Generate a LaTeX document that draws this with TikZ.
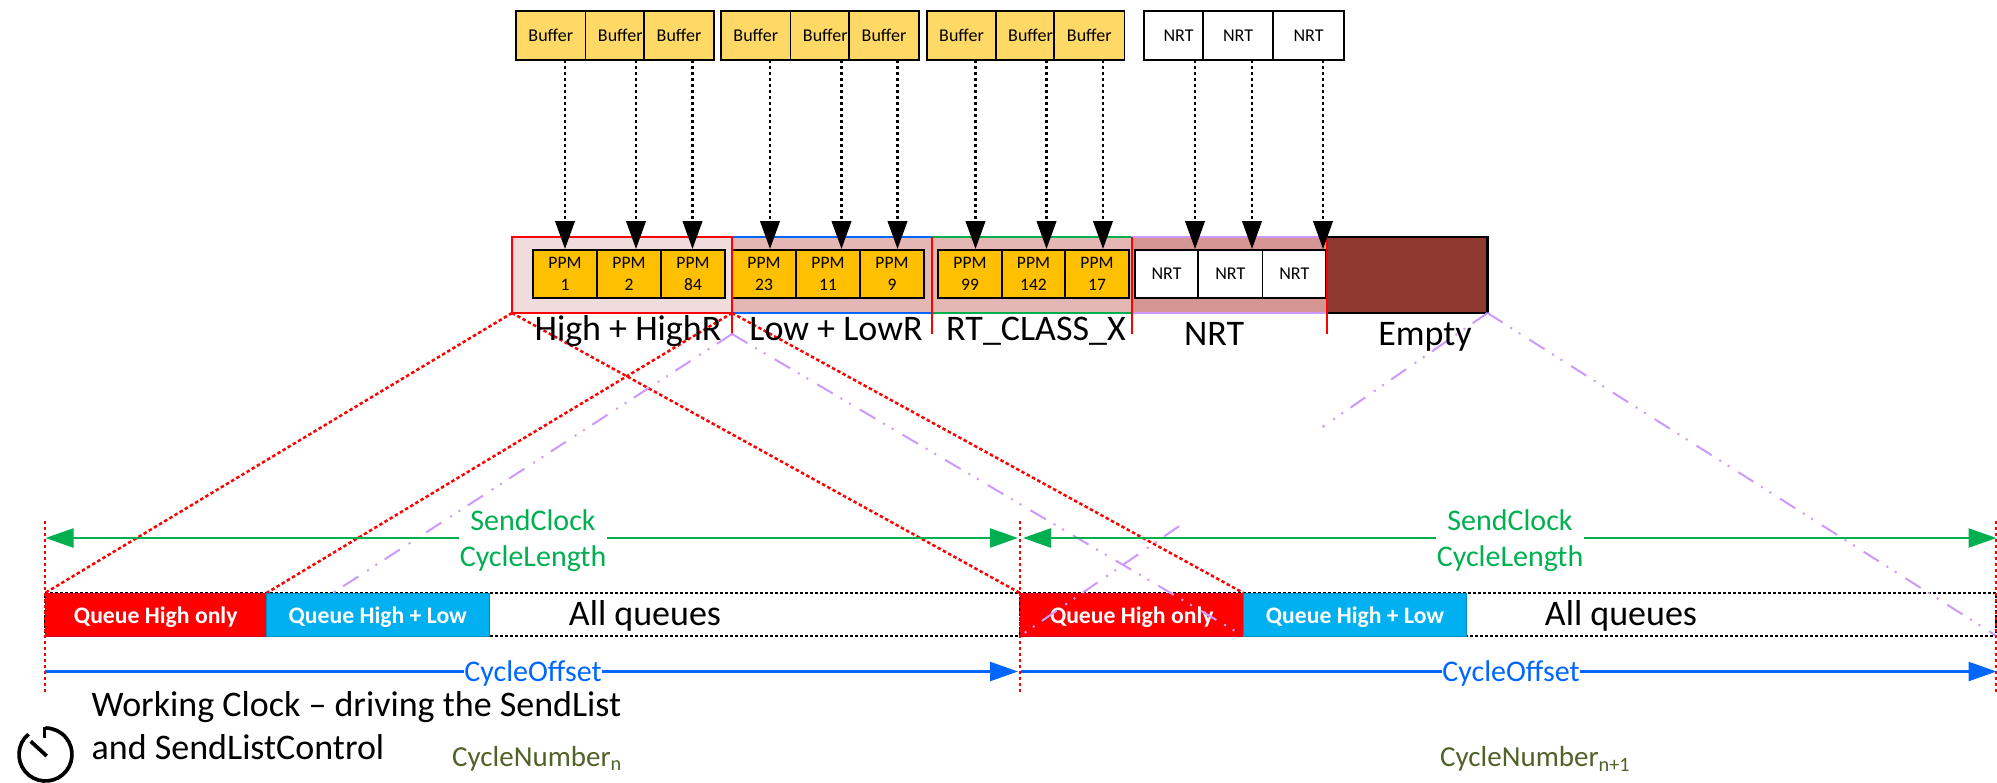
\documentclass[tikz,border=0pt]{standalone}
\usepackage{fontspec}
\setmainfont{Carlito}
\usetikzlibrary{arrows.meta,calc}
\definecolor{bufY}{HTML}{FFD966}
\definecolor{ppmY}{HTML}{FFC000}
\definecolor{gr}{HTML}{00B050}
\definecolor{bl}{HTML}{0066FF}
\definecolor{numG}{HTML}{4F6228}
\definecolor{pur}{HTML}{CC99FF}
\definecolor{hiF}{HTML}{F0DCDC}
\definecolor{loF}{HTML}{E4B7B4}
\definecolor{nrF}{HTML}{D59592}
\definecolor{emF}{HTML}{8F3830}
\definecolor{cy}{HTML}{00B0F0}
\tikzset{
 cell/.style={draw=black,line width=1.8pt,inner sep=0pt,outer sep=0pt,align=center},
 bufbox/.style={cell,fill=bufY,font=\fontsize{18}{21}\selectfont},
 nrtbox/.style={cell,fill=white,font=\fontsize{18}{21}\selectfont},
 ppmbox/.style={cell,fill=ppmY,font=\fontsize{17.5}{22}\selectfont},
 region/.style={line width=2pt,inner sep=0pt,outer sep=0pt},
 rowbox/.style={draw=black,line width=2.4pt,dash pattern=on 3pt off 2pt,inner sep=0pt,outer sep=0pt},
 qbox/.style={inner sep=0pt,outer sep=0pt,text=white,text height=17.6pt,text depth=0pt,font=\fontsize{23.7}{26}\bfseries\selectfont},
 sect/.style={font=\fontsize{36}{40}\selectfont,inner sep=0pt,anchor=base},
 grlab/.style={text=gr,font=\fontsize{30}{34}\selectfont,inner sep=0pt,anchor=base},
 bllab/.style={text=bl,font=\fontsize{30}{34}\selectfont,inner sep=0pt,anchor=base},
 numlab/.style={text=numG,font=\fontsize{29}{34}\selectfont,inner sep=0pt,anchor=base west},
 feed/.style={line width=2.4pt,dash pattern=on 3.2pt off 2.8pt,-{Triangle[length=28pt,width=19.5pt,sep=0pt]},black},
 redsep/.style={red,line width=2.2pt},
 reddot/.style={red,line width=2.5pt,dash pattern=on 3.5pt off 2.5pt},
 purdash/.style={pur,line width=2pt,dash pattern=on 18pt off 9pt on 2pt off 8pt on 2pt off 10.5pt},
 grline/.style={gr,line width=2.5pt},
 blline/.style={bl,line width=2.5pt},
}
\newcommand{\bx}[7]{\node[#1,minimum width={(#4)-(#3)},minimum height={(#6)-(#5)}] (#2) at ({((#3)+(#4))/2},{((#5)+(#6))/2}) {#7};}
\begin{document}
\begin{tikzpicture}[x=1pt,y=-1pt]
\useasboundingbox (0,0) rectangle (1997,782);
\clip (0,0) rectangle (1997,782);

% sections
\bx{region,fill=loF,draw=bl}{low}{732}{932}{237}{313}{}
\bx{region,fill=loF,draw=gr}{rt}{932}{1132}{237}{313}{}
\bx{region,fill=nrF,draw=pur}{nrtr}{1132}{1327}{237}{313}{}
\bx{region,fill=emF,draw=black,line width=2.2pt}{empty}{1327}{1487.5}{237}{313}{}
\bx{region,fill=hiF,draw=red}{high}{512}{732}{237}{313}{}

% PPM cells
\bx{ppmbox}{p1}{533}{597}{250}{298}{PPM\\1}
\bx{ppmbox}{p2}{597}{661}{250}{298}{PPM\\2}
\bx{ppmbox}{p3}{661}{725}{250}{298}{PPM\\84}
\bx{ppmbox}{p4}{732}{796}{250}{298}{PPM\\23}
\bx{ppmbox}{p5}{796}{860}{250}{298}{PPM\\11}
\bx{ppmbox}{p6}{860}{924}{250}{298}{PPM\\9}
\bx{ppmbox}{p7}{938}{1002}{250}{298}{PPM\\99}
\bx{ppmbox}{p8}{1002}{1065}{250}{298}{PPM\\142}
\bx{ppmbox}{p9}{1065}{1129}{250}{298}{PPM\\17}
\bx{nrtbox}{n1}{1135}{1198}{250}{298}{NRT}
\bx{nrtbox}{n2}{1198}{1262.5}{250}{298}{NRT}
\bx{nrtbox}{n3}{1262.5}{1326}{250}{298}{NRT}

% separators
\coordinate (apexA) at (732,334);
\coordinate (apexB) at (932,334);
\coordinate (apexC) at (1132,334);
\coordinate (apexD) at (1327,334);
\draw[redsep] (low.north west) -- (apexA);
\draw[redsep] (rt.north west) -- (apexB);
\draw[redsep] (nrtr.north west) -- (apexC);
\draw[redsep] (empty.north west) -- (apexD);

% buffers
\bx{bufbox}{b1}{516}{585.5}{11}{60}{Buffer}
\bx{bufbox}{b2}{585.5}{655}{11}{60}{Buffer}
\bx{bufbox}{b3}{644}{714}{11}{60}{Buffer}
\bx{bufbox}{b4}{721}{790.5}{11}{60}{Buffer}
\bx{bufbox}{b5}{790.5}{860}{11}{60}{Buffer}
\bx{bufbox}{b6}{849}{919}{11}{60}{Buffer}
\bx{bufbox}{b7}{927}{996}{11}{60}{Buffer}
\bx{bufbox}{b8}{996}{1065}{11}{60}{Buffer}
\bx{bufbox}{b9}{1054}{1124.5}{11}{60}{Buffer}
\bx{nrtbox}{m1}{1144}{1213}{11}{60}{NRT}
\bx{nrtbox}{m2}{1203}{1273}{11}{60}{NRT}
\bx{nrtbox}{m3}{1273}{1344}{11}{60}{NRT}

% feeds
\foreach \b/\p/\x in {b1/p1/565,b2/p2/636,b3/p3/692.5,b4/p4/770,b5/p5/841.5,b6/p6/897.5,b7/p7/975.5,b8/p8/1046.5,b9/p9/1103,m1/n1/1195,m2/n2/1252,m3/n3/1323}{
  \coordinate (fx) at (\x,0);
  \draw[feed] (\b.south -| fx) -- ($(\p.north -| fx)+(0,-1)$);
}

% cycle rows
\bx{rowbox}{rowa}{45}{1020}{593}{636}{}
\bx{rowbox}{rowb}{1020}{1996.5}{593}{636}{}
\bx{qbox,fill=red,draw=red!85!blue,line width=1pt}{qh1}{45}{266.5}{593}{636}{Queue High only}
\bx{qbox,fill=red,draw=red!85!blue,line width=1pt}{qh2}{1020}{1243.5}{593}{636}{Queue High only}
\bx{qbox,fill=cy,draw=cy!80!black,line width=1pt}{qb2}{1243.5}{1466.5}{593}{636}{Queue High + Low}

% projections
\coordinate (qb1nw) at (266.5,593);
\coordinate (qb1sw) at (266.5,636);
\draw[reddot] (high.south west) -- (qh1.north west);
\draw[reddot] (high.south west) -- (qh2.north west);
\draw[reddot] (high.south east) -- (qh2.north east);
\draw[reddot] (high.south east) -- (qb1nw);
\draw[purdash] (apexA) -- (qb1sw);
\draw[purdash] (apexA) -- (qh2.south east);
\draw[purdash] (empty.south east) -- ($(empty.south east)!0.353!(qh2.south west)$);
\draw[purdash] ($(empty.south east)!0.66!(qh2.south west)$) -- (qh2.south west);
\draw[purdash] (empty.south east) -- (rowb.south east);
\bx{qbox,fill=cy,draw=cy!80!black,line width=1pt}{qb1}{266.5}{489}{593}{636}{Queue High + Low}

% time markers
\coordinate (va) at (45,520.5);   \coordinate (vb) at (45,691.5);
\coordinate (vc) at (1020,520.5); \coordinate (vd) at (1020,691.5);
\coordinate (ve) at (1996.5,520.5); \coordinate (vf) at (1996.5,691.5);
\draw[reddot] (va) -- (vb);
\draw[reddot] (vc) -- (vd);
\draw[reddot] (ve) -- (vf);

% labels
\node[sect] (lh) at (628,340) {High + HighR};
\node[sect] (ll) at (836,340.5) {Low + LowR};
\node[sect] (lr) at (1036,340) {RT\_CLASS\_X};
\node[sect] (ln) at (1214,345.5) {NRT};
\node[sect] (le) at (1425,345.5) {Empty};
\node[sect] (aq1) at (645,625.5) {All queues};
\node[sect] (aq2) at (1621,625.5) {All queues};

\node[grlab] (sc1) at (533,530.5) {SendClock};
\node[grlab] (cl1) at (533,566.5) {CycleLength};
\node[grlab] (sc2) at (1510,530.5) {SendClock};
\node[grlab] (cl2) at (1510,566.5) {CycleLength};
\node[bllab] (co1) at (533,681.5) {CycleOffset};
\node[bllab] (co2) at (1511,681.5) {CycleOffset};

\coordinate (ga) at (45.5,538);  \coordinate (gb) at (459,538);
\coordinate (gc) at (607,538);   \coordinate (gd) at (1018,538);
\coordinate (ge) at (1023,538);  \coordinate (gf) at (1436,538);
\coordinate (gg) at (1584,538);  \coordinate (gh) at (1996.5,538);
\draw[grline,{Triangle[length=28pt,width=19pt,sep=0pt]}-] (ga) -- (gb);
\draw[grline,-{Triangle[length=28pt,width=19pt,sep=0pt]}] (gc) -- (gd);
\draw[grline,{Triangle[length=28pt,width=19pt,sep=0pt]}-] (ge) -- (gf);
\draw[grline,-{Triangle[length=28pt,width=19pt,sep=0pt]}] (gg) -- (gh);

\coordinate (ba) at (45,671.5);  \coordinate (bb) at (1018,671.5);
\coordinate (bc) at (1021,671.5); \coordinate (bd) at (1996.5,671.5);
\draw[blline] (ba) -- (co1.west |- ba);
\draw[blline,-{Triangle[length=28pt,width=19pt,sep=0pt]}] (co1.east |- ba) -- (bb);
\draw[blline] (bc) -- (co2.west |- bc);
\draw[blline,-{Triangle[length=28pt,width=19pt,sep=0pt]}] (co2.east |- bc) -- (bd);

\node[anchor=base west,inner sep=0pt,font=\fontsize{36}{43}\selectfont] (wc1) at (91.5,716) {Working Clock -- driving the SendList};
\node[anchor=base west,inner sep=0pt,font=\fontsize{36}{43}\selectfont] (wc2) at (91.5,759) {and SendListControl};
\node[numlab] (cn1) at (452,766.5) {CycleNumber\textsubscript{n}};
\node[numlab] (cn2) at (1440,766.5) {CycleNumber\textsubscript{n+1}};

% clock icon
\coordinate (ck) at (45.5,754.5);
\draw[line width=3.7pt] ([shift={(ck)}]130:26.5pt) arc[start angle=130,end angle=450,radius=26.5pt];
\coordinate (cka) at (44.5,726.5);
\coordinate (ckb) at (44.5,738);
\draw[line width=3.7pt] (cka) -- (ckb);
\coordinate (ckh) at (30.7,741.3);
\coordinate (ckc) at (46.7,756);
\draw[line width=3.7pt] (ckc) -- (ckh);
\end{tikzpicture}
\end{document}
